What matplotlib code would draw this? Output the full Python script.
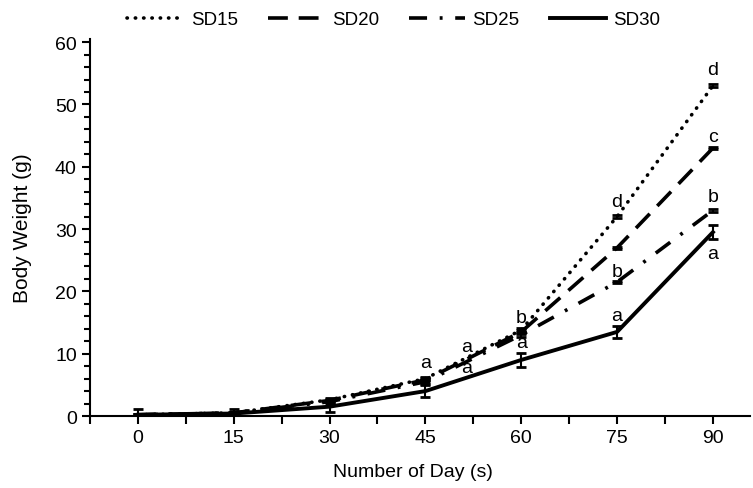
import numpy as np
import matplotlib
matplotlib.use("Agg")
from matplotlib import pyplot as plt
from matplotlib.ticker import MultipleLocator

plt.rcParams['font.family'] = ['Liberation Sans', 'DejaVu Sans']

days = [0, 15, 30, 45, 60, 75, 90]

sd15 = [0.2, 0.5, 2.6, 6.0, 13.8, 32.0, 53.0]
sd20 = [0.2, 0.5, 2.5, 5.8, 13.5, 27.0, 43.0]
sd25 = [0.2, 0.5, 2.3, 5.5, 13.0, 21.5, 33.0]
sd30 = [0.2, 0.4, 1.5, 4.0, 9.0, 13.5, 29.5]

err15 = [0.2, 0.2, 0.3, 0.3, 0.3, 0.2, 0.2]
err20 = [0.2, 0.2, 0.3, 0.3, 0.3, 0.2, 0.2]
err25 = [0.2, 0.2, 0.3, 0.3, 0.3, 0.2, 0.2]
err30 = [1.0, 0.8, 0.9, 1.0, 1.1, 1.0, 1.1]

# significance letters: (x, y, letter)
letters = [
    (90, 55.6, 'd'), (90, 44.9, 'c'), (90, 35.2, 'b'), (90, 26.0, 'a'),
    (75, 34.4, 'd'), (75, 23.2, 'b'), (75, 16.2, 'a'),
    (60, 15.8, 'b'), (60, 11.8, 'a'),
    (51.5, 11.2, 'a'), (51.5, 7.8, 'a'),
    (45, 8.6, 'a'),
]

fig = plt.figure(figsize=(7.53, 4.89), dpi=100)
ax = fig.add_axes([0.1195, 0.1472, 0.8765, 0.771])

series = [
    ('SD15', sd15, err15, dict(linestyle=(0, (0.1, 2.2)), dash_capstyle='round', lw=2.6)),
    ('SD20', sd20, err20, dict(linestyle=(0, (5.5, 3.0)), lw=2.6)),
    ('SD25', sd25, err25, dict(linestyle=(0, (5.0, 3.5, 0.8, 3.5)), lw=2.6)),
    ('SD30', sd30, err30, dict(linestyle='-', lw=2.8)),
]

for name, vals, errs, style in series:
    ax.errorbar(days, vals, yerr=errs, color='black', capsize=3.5,
                elinewidth=1.5, capthick=2.0, label=name, **style)

for x, y, s in letters:
    ax.text(x, y, s, ha='center', va='center', fontsize=14)

ax.set_xlim(-7.5, 95.8)
ax.set_ylim(0, 60.5)
ax.xaxis.set_major_locator(MultipleLocator(15))
ax.xaxis.set_minor_locator(MultipleLocator(7.5))
ax.yaxis.set_major_locator(MultipleLocator(10))
ax.yaxis.set_minor_locator(MultipleLocator(2))
ax.tick_params(axis='both', which='major', direction='out', length=6, width=1.5, labelsize=14)
ax.tick_params(axis='both', which='minor', direction='out', length=4, width=1.5)
ax.tick_params(axis='x', which='minor', length=6)
ax.spines['top'].set_visible(False)
ax.spines['right'].set_visible(False)
ax.spines['left'].set_linewidth(1.5)
ax.spines['bottom'].set_linewidth(1.5)

ax.set_xlabel('Number of Day (s)', fontsize=14)
ax.set_ylabel('Body Weight (g)', fontsize=15)
ax.xaxis.set_label_coords(0.49, -0.125)
ax.yaxis.set_label_coords(-0.088, 0.5)

handles, labels = ax.get_legend_handles_labels()
handles = [h[0] for h in handles]
fig.legend(handles, labels, loc='upper center', bbox_to_anchor=(0.523, 1.01), ncol=4,
           frameon=False, fontsize=13.5, handlelength=3.0, columnspacing=1.6, handletextpad=0.4)

fig.savefig('out.png', dpi=100)
